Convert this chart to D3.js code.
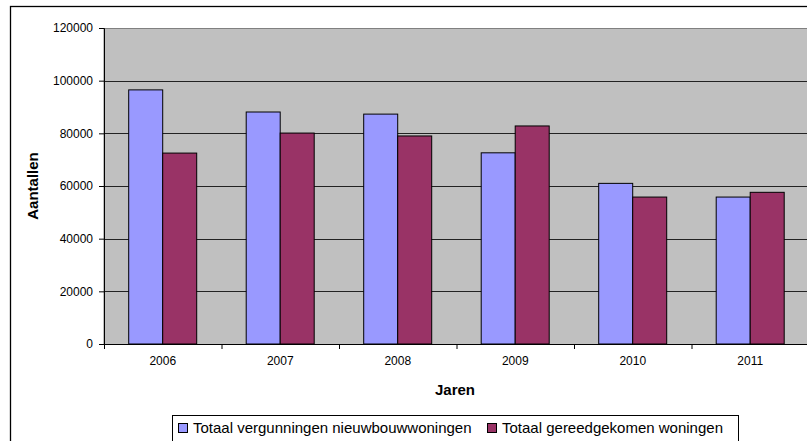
<!DOCTYPE html>
<html>
<head>
<meta charset="utf-8">
<script src="https://cdn.jsdelivr.net/npm/d3@7"></script>
<style>
  html, body { margin: 0; background: #fff; overflow: hidden; }
  svg { display: block; font-family: Arial, "Liberation Sans", sans-serif; }
</style>
</head>
<body>
<svg id="chart" width="807" height="441"></svg>
<script>
// chart values
const years = ["2006", "2007", "2008", "2009", "2010", "2011"];
const seriesNames = ["Totaal vergunningen nieuwbouwwoningen", "Totaal gereedgekomen woningen"];
const vergunningen = [96500, 88100, 87300, 72600, 61000, 55800];
const gereed = [72500, 80100, 79000, 82800, 55800, 57600];
const yTicks = [0, 20000, 40000, 60000, 80000, 100000, 120000];
const colors = ["#9999FF", "#993366"];

const svg = d3.select("#chart");
const plot = {left: 104, top: 28, bottom: 344, right: 809};

// outer chart frame
svg.append("rect")
  .attr("x", 10.5).attr("y", 6.5)
  .attr("width", 820).attr("height", 460)
  .attr("fill", "#fff").attr("stroke", "#000").attr("stroke-width", 1.3);

const x = d3.scaleBand().domain(years).range([plot.left, plot.right]);
const xInner = d3.scaleBand().domain([0, 1]).range([24.7, 92.7]);
const y = d3.scaleLinear().domain([0, 120000]).range([plot.bottom, plot.top]);

// grey plot area (runs off the right edge like the original)
svg.append("rect")
  .attr("x", plot.left).attr("y", plot.top + 0.5)
  .attr("width", 720).attr("height", plot.bottom - plot.top)
  .attr("fill", "#C0C0C0").attr("stroke", "#808080");

// gridlines
svg.append("g")
  .selectAll("line")
  .data(yTicks.slice(1, -1))
  .join("line")
  .attr("x1", plot.left).attr("x2", 830)
  .attr("y1", d => Math.round(y(d)) + 0.5).attr("y2", d => Math.round(y(d)) + 0.5)
  .attr("stroke", "#222");

// bars
const data = [vergunningen, gereed];
data.forEach((vals, s) => {
  svg.append("g")
    .selectAll("rect")
    .data(vals)
    .join("rect")
    .attr("x", (d, i) => x(years[i]) + xInner(s))
    .attr("y", d => y(d))
    .attr("width", xInner.bandwidth())
    .attr("height", d => plot.bottom - y(d))
    .attr("fill", colors[s])
    .attr("stroke", "#000")
    .attr("stroke-width", 1);
});

// y axis
const yAxis = svg.append("g")
  .attr("transform", `translate(${plot.left},0)`)
  .call(d3.axisLeft(y).tickValues(yTicks).tickSize(5).tickPadding(6).tickFormat(d3.format("d")));
yAxis.selectAll("text").style("font-size", "12px").attr("fill", "#000");
yAxis.selectAll("line, path").attr("stroke", "#000");

// x axis
const xAxis = svg.append("g")
  .attr("transform", `translate(0,${plot.bottom})`)
  .call(d3.axisBottom(x).tickSize(0).tickPadding(12));
xAxis.selectAll("text").style("font-size", "12px").attr("fill", "#000");
xAxis.select(".domain").attr("stroke", "#000");
// tick marks between categories
svg.append("g")
  .selectAll("line")
  .data(years)
  .join("line")
  .attr("x1", d => x(d) + 0.5).attr("x2", d => x(d) + 0.5)
  .attr("y1", plot.bottom).attr("y2", plot.bottom + 5)
  .attr("stroke", "#000");

// axis titles
svg.append("text")
  .attr("x", 455).attr("y", 395)
  .attr("text-anchor", "middle")
  .style("font-size", "15px").style("font-weight", "bold")
  .text("Jaren");

svg.append("text")
  .attr("transform", `translate(38,${(plot.top + plot.bottom) / 2}) rotate(-90)`)
  .attr("text-anchor", "middle")
  .style("font-size", "15px").style("font-weight", "bold")
  .text("Aantallen");

// legend
const legend = svg.append("g");
legend.append("rect")
  .attr("x", 172.5).attr("y", 415.5)
  .attr("width", 566).attr("height", 40)
  .attr("fill", "#fff").attr("stroke", "#000");
const legendX = [178, 487];
seriesNames.forEach((name, i) => {
  legend.append("rect")
    .attr("x", legendX[i] + 0.5).attr("y", 423.5)
    .attr("width", 9).attr("height", 9)
    .attr("fill", colors[i]).attr("stroke", "#000");
  legend.append("text")
    .attr("x", legendX[i] + 15).attr("y", 433)
    .style("font-size", "15px")
    .text(name);
});
</script>
</body>
</html>
